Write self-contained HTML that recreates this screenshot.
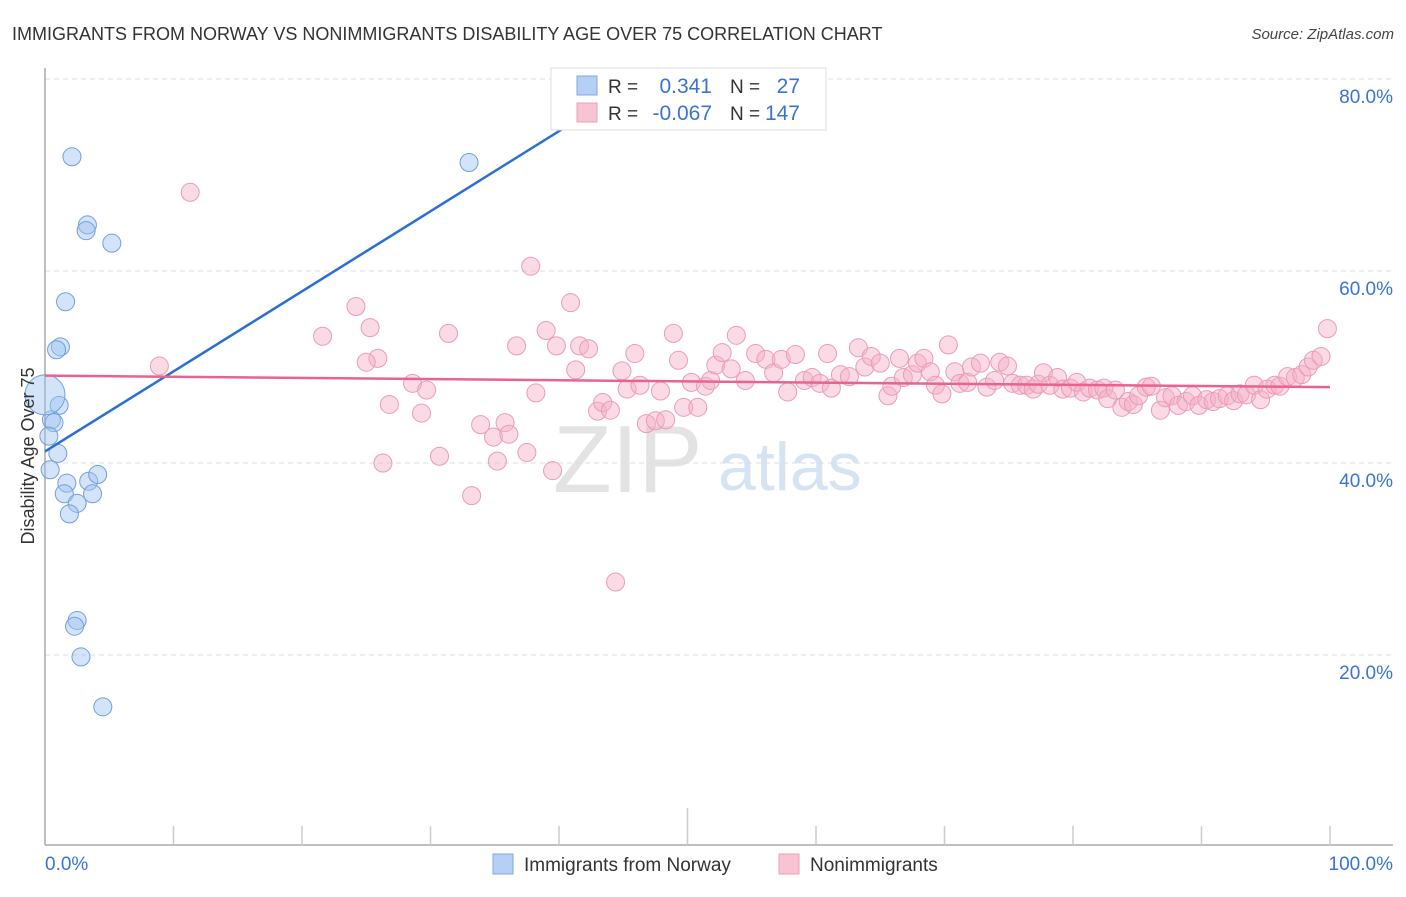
<!DOCTYPE html>
<html><head><meta charset="utf-8"><style>
body{margin:0;background:#fff;font-family:"Liberation Sans",sans-serif;}
svg text{font-family:"Liberation Sans",sans-serif;}
</style></head><body>
<svg id="chart" width="1406" height="892" xmlns="http://www.w3.org/2000/svg">
<text x="12" y="40" font-size="18" fill="#333">IMMIGRANTS FROM NORWAY VS NONIMMIGRANTS DISABILITY AGE OVER 75 CORRELATION CHART</text>
<text x="1394" y="39" font-size="15" fill="#444" text-anchor="end" font-style="italic">Source: ZipAtlas.com</text>
<g>
<text x="553" y="492" font-size="96" fill="#e3e3e3" font-family="Liberation Serif">ZIP</text>
<text x="718" y="490" font-size="68" fill="#d6e3f3">atlas</text>
</g>
<g id="grid"></g>
<g id="axes"></g>
<g id="pink"></g>
<g id="blue"></g>
<g id="lines"></g>
<text transform="translate(34,456) rotate(-90)" font-size="18" fill="#333" text-anchor="middle">Disability Age Over 75</text>
<g>
<rect x="551" y="68" width="275" height="62" fill="#fff" stroke="#ddd"/>
<rect x="577" y="76" width="20" height="19" fill="#b6d0f5" stroke="#7fa8e3"/>
<rect x="577" y="103" width="20" height="19" fill="#f8c3d3" stroke="#eba0b8"/>
<text x="608" y="93" font-size="19" fill="#333">R =</text>
<text x="712" y="93" font-size="21" fill="#3a74d0" text-anchor="end">0.341</text>
<text x="730" y="93" font-size="19" fill="#333">N =</text>
<text x="800" y="93" font-size="21" fill="#3a74d0" text-anchor="end">27</text>
<text x="608" y="120" font-size="19" fill="#333">R =</text>
<text x="712" y="120" font-size="21" fill="#3a74d0" text-anchor="end">-0.067</text>
<text x="730" y="120" font-size="19" fill="#333">N =</text>
<text x="800" y="120" font-size="21" fill="#3a74d0" text-anchor="end">147</text>
</g>
<g>
<rect x="493" y="854" width="20" height="20" fill="#b6d0f5" stroke="#7fa8e3"/>
<text x="524" y="871" font-size="19" fill="#333">Immigrants from Norway</text>
<rect x="779" y="854" width="20" height="20" fill="#f8c3d3" stroke="#eba0b8"/>
<text x="810" y="871" font-size="19" fill="#333">Nonimmigrants</text>
</g>
</svg>
<script>
const yTicks=[20,40,60,80];
const yTickLabels=["20.0%","40.0%","60.0%","80.0%"];
const blueX=[2.1,3.3,3.2,5.2,1.6,1.2,0.9,1.1,0.5,0.7,0.3,1.0,0.4,1.7,3.4,4.1,1.5,3.7,2.5,1.9,2.5,2.3,2.8,4.5,33.0,0.0];
const blueY=[71.9,64.8,64.2,62.9,56.8,52.1,51.8,46.0,44.5,44.2,42.8,41.0,39.3,37.9,38.1,38.8,36.8,36.8,35.8,34.7,23.6,23.0,19.8,14.6,71.3,47.1];
const pinkX=[11.3,8.9,21.6,24.2,25.3,25.9,25.0,26.8,28.6,29.3,29.7,26.3,30.7,31.4,33.2,33.9,34.9,35.2,35.8,36.1,36.7,37.5,37.8,38.2,39.0,39.8,39.5,40.9,41.3,41.6,42.3,43.0,43.4,44.0,44.4,44.9,45.3,45.9,46.3,46.8,47.5,47.9,48.3,48.9,49.3,49.7,50.3,50.8,51.4,51.8,52.2,52.7,53.4,53.8,54.5,55.3,56.1,56.7,57.3,57.8,58.4,59.1,59.7,60.3,60.9,61.2,61.9,62.6,63.3,63.8,64.3,65.0,65.6,65.9,66.5,66.8,67.5,67.9,68.4,68.9,69.3,69.8,70.3,70.8,71.2,71.8,72.1,72.8,73.3,73.9,74.3,74.9,75.3,75.9,76.4,76.9,77.3,77.7,78.2,78.8,79.2,79.8,80.3,80.8,81.3,81.9,82.4,82.7,83.3,83.8,84.3,84.7,85.1,85.7,86.1,86.8,87.2,87.7,88.2,88.8,89.3,89.8,90.4,90.9,91.4,92.0,92.5,93.0,93.5,94.1,94.6,95.1,95.7,96.1,96.7,97.3,97.8,98.3,98.7,99.3,99.8];
const pinkY=[68.2,50.1,53.2,56.3,54.1,50.9,50.5,46.1,48.3,45.2,47.6,40.0,40.7,53.5,36.6,44.0,42.7,40.2,44.2,43.0,52.2,41.1,60.5,47.3,53.8,52.2,39.2,56.7,49.7,52.2,51.9,45.4,46.3,45.5,27.6,49.6,47.7,51.4,48.1,44.1,44.4,47.5,44.5,53.5,50.7,45.8,48.4,45.8,48.0,48.6,50.2,51.5,49.8,53.3,48.6,51.4,50.8,49.4,50.8,47.4,51.3,48.6,48.9,48.3,51.4,47.8,49.2,49.0,52.0,50.0,51.1,50.4,47.0,48.0,50.9,48.9,49.2,50.4,50.9,49.5,48.1,47.2,52.3,49.5,48.3,48.4,50.0,50.4,47.9,48.6,50.5,50.1,48.3,48.1,48.1,47.7,48.2,49.4,48.1,48.9,47.7,47.8,48.4,47.4,47.8,47.6,47.8,46.7,47.6,45.8,46.4,46.1,47.0,47.9,48.0,45.5,46.8,47.0,46.0,46.4,47.0,46.0,46.6,46.4,46.7,47.0,46.5,47.2,47.1,48.1,46.6,47.7,48.1,48.0,49.0,48.9,49.2,50.0,50.7,51.1,54.0];
const blueTrend=[0,41.2,40.4,74.9];
const pinkTrend=[0,49.1,100,47.9];

const NS="http://www.w3.org/2000/svg";
const X0=45,X1=1330,YB=847,YS=9.6;
function sx(v){return X0+(X1-X0)*v/100;}
function sy(v){return YB-v*YS;}
function mk(tag,attrs,parent){const e=document.createElementNS(NS,tag);for(const k in attrs)e.setAttribute(k,attrs[k]);parent.appendChild(e);return e;}
const grid=document.getElementById('grid'),axes=document.getElementById('axes');
yTicks.forEach((t,i)=>{
 const l=mk('line',{x1:45,x2:1393,y1:sy(t),y2:sy(t),stroke:'#ddd','stroke-dasharray':'5,4'},grid);
 
 
 const tx=mk('text',{x:1393,y:sy(t)+24,'font-size':19,fill:'#3a74d0','text-anchor':'end'},axes);
 tx.textContent=yTickLabels[i];
 
 
});
mk('line',{x1:45,x2:45,y1:68,y2:845,stroke:'#aaa','stroke-width':1.5},axes);
mk('line',{x1:45,x2:1393,y1:845,y2:845,stroke:'#aaa','stroke-width':1.5},axes);
for(let i=1;i<=10;i++){
 const t=mk('line',{x1:sx(i*10),x2:sx(i*10),y1:(i==5?808:826),y2:845,stroke:'#ccc','stroke-width':1.5},axes);
 
 
}
const xl=mk('text',{x:45,y:870,'font-size':19,fill:'#3a74d0'},axes);xl.textContent='0.0%';


const xr=mk('text',{x:1393,y:870,'font-size':19,fill:'#3a74d0','text-anchor':'end'},axes);xr.textContent='100.0%';


const pg=document.getElementById('pink');
pinkX.forEach((x,i)=>{
 const c=mk('circle',{cx:sx(x),cy:sy(pinkY[i]),r:9,fill:'rgba(245,175,198,0.45)',stroke:'#eb9bb6','stroke-width':1},pg);
 
 
});
const bg=document.getElementById('blue');
blueX.forEach((x,i)=>{
 const big=i===blueX.length-1;
 const c=mk('circle',{cx:sx(x),cy:sy(blueY[i]),r:big?20:9,fill:'rgba(160,195,240,0.45)',stroke:'#6f9fe0','stroke-width':1},bg);
 
 
});
const lg=document.getElementById('lines');
const bl=mk('line',{x1:sx(blueTrend[0]),y1:sy(blueTrend[1]),x2:sx(blueTrend[2]),y2:sy(blueTrend[3]),stroke:'#2a6fd6','stroke-width':2.5},lg);


const pl=mk('line',{x1:sx(pinkTrend[0]),y1:sy(pinkTrend[1]),x2:sx(pinkTrend[2]),y2:sy(pinkTrend[3]),stroke:'#e8648f','stroke-width':2.5},lg);


</script>
</body></html>
